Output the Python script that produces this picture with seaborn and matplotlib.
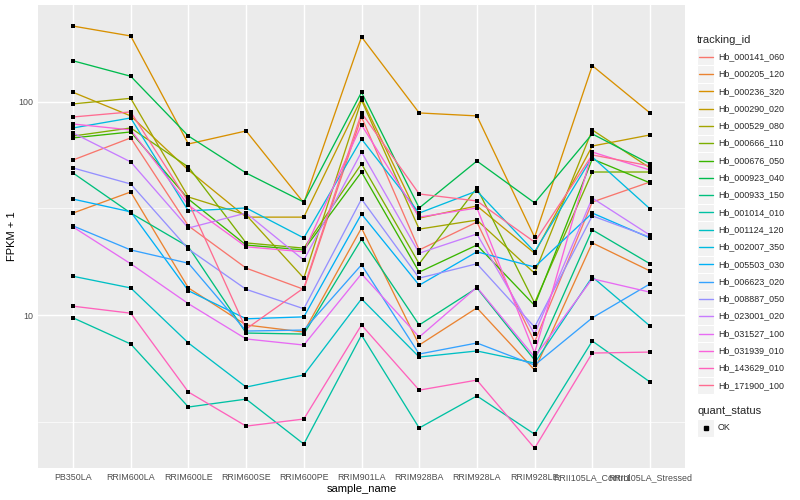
import numpy as np
import pandas as pd
import matplotlib
matplotlib.use("Agg")
import matplotlib.pyplot as plt
from matplotlib.ticker import FixedLocator, NullFormatter
from matplotlib.patches import Rectangle
from matplotlib.lines import Line2D
import seaborn as sns

# ---------------- data ----------------
sample_names = ["PB350LA", "RRIM600LA", "RRIM600LE", "RRIM600SE", "RRIM600PE",
                "RRIM901LA", "RRIM928BA", "RRIM928LA", "RRIM928LE",
                "RRII105LA_Control", "RRII105LA_Stressed"]

tracking_ids = ["Hb_000141_060", "Hb_000205_120", "Hb_000236_320", "Hb_000290_020",
                "Hb_000529_080", "Hb_000666_110", "Hb_000676_050", "Hb_000923_040",
                "Hb_000933_150", "Hb_001014_010", "Hb_001124_120", "Hb_002007_350",
                "Hb_005503_030", "Hb_006623_020", "Hb_008887_050", "Hb_023001_020",
                "Hb_031527_100", "Hb_031939_010", "Hb_143629_010", "Hb_171900_100"]

# FPKM + 1 per sample
hb_000141_060 = [53.4, 67.8, 26.2, 16.6, 13.2, 85.0, 20.2, 27.3, 7.47, 33.9, 42.1]
hb_000205_120 = [30.1, 37.8, 13.4, 8.98, 8.32, 25.6, 7.23, 10.8, 5.52, 21.8, 16.1]
hb_000236_320 = [227, 204, 63.5, 73.1, 33.6, 202, 88.8, 86.0, 23.2, 148, 88.8]
hb_000290_020 = [111, 86.0, 47.9, 28.8, 28.8, 104, 28.5, 32.5, 19.5, 62.1, 70.0]
hb_000529_080 = [97.9, 104, 35.8, 29.5, 14.9, 102, 25.3, 27.9, 15.7, 73.9, 49.0]
hb_000666_110 = [69.2, 75.5, 49.5, 21.8, 20.6, 51.2, 17.4, 39.5, 11.4, 46.9, 46.9]
hb_000676_050 = [67.8, 72.3, 35.0, 21.3, 20.2, 46.9, 15.9, 21.3, 11.1, 54.0, 41.7]
hb_000923_040 = [156, 132, 69.2, 46.4, 33.9, 111, 31.8, 52.8, 33.6, 70.8, 51.2]
hb_000933_150 = [46.4, 30.1, 20.9, 8.23, 8.14, 22.7, 8.98, 13.4, 6.15, 25.1, 17.4]
hb_001014_010 = [9.7, 7.31, 3.70, 4.03, 2.48, 8.05, 2.95, 4.17, 2.76, 7.55, 4.85]
hb_001124_120 = [15.2, 13.4, 7.39, 4.59, 5.23, 11.9, 6.35, 6.78, 5.95, 15.1, 8.88]
hb_002007_350 = [75.5, 84.1, 30.8, 31.8, 23.0, 67.0, 30.1, 38.2, 19.8, 55.2, 31.5]
hb_005503_030 = [35.0, 30.5, 13.0, 9.6, 9.8, 29.8, 13.8, 19.8, 16.8, 30.1, 23.0]
hb_006623_020 = [26.2, 20.2, 17.5, 8.41, 8.50, 17.2, 6.56, 7.39, 5.82, 9.7, 14.0]
hb_008887_050 = [49.0, 41.2, 20.4, 13.2, 10.7, 35.0, 14.9, 17.4, 8.78, 29.2, 23.2]
hb_023001_020 = [71.5, 52.3, 25.6, 30.1, 18.1, 58.2, 19.5, 24.0, 8.14, 35.4, 23.7]
hb_031527_100 = [25.9, 17.4, 11.3, 7.72, 7.23, 15.6, 7.88, 13.5, 6.35, 14.8, 12.8]
hb_031939_010 = [78.8, 73.9, 32.8, 20.9, 19.8, 78.0, 28.8, 31.8, 6.63, 58.2, 47.9]
hb_143629_010 = [11.0, 10.2, 4.35, 3.01, 3.25, 8.98, 4.44, 4.95, 2.37, 6.63, 6.70]
hb_171900_100 = [85.0, 89.8, 33.9, 8.60, 13.4, 88.8, 37.0, 34.3, 22.0, 56.4, 50.1]

series = [hb_000141_060, hb_000205_120, hb_000236_320, hb_000290_020, hb_000529_080,
          hb_000666_110, hb_000676_050, hb_000923_040, hb_000933_150, hb_001014_010,
          hb_001124_120, hb_002007_350, hb_005503_030, hb_006623_020, hb_008887_050,
          hb_023001_020, hb_031527_100, hb_031939_010, hb_143629_010, hb_171900_100]

quant_status = ["OK"]

palette = ["#F8766D", "#EA8331", "#D89000", "#C09B00", "#A3A500", "#7CAE00", "#39B600",
           "#00BB4E", "#00BF7D", "#00C1A3", "#00BFC4", "#00BAE0", "#00B0F6", "#35A2FF",
           "#9590FF", "#C77CFF", "#E76BF3", "#FA62DB", "#FF62BC", "#FF6C91"]

rows = []
for tid, vals in zip(tracking_ids, series):
    for s, v in zip(sample_names, vals):
        rows.append({"tracking_id": tid, "sample_name": s, "value": v, "quant_status": "OK"})
df = pd.DataFrame(rows)
df["xpos"] = df["sample_name"].map({s: i for i, s in enumerate(sample_names)})

# ---------------- plot ----------------
sns.set_style("white")
plt.rcParams["font.family"] = ["Liberation Sans", "DejaVu Sans"]

W, H = 800, 500
fig = plt.figure(figsize=(8, 5), dpi=100)
ax = fig.add_axes([38.4 / W, 1 - 468 / H, (684.6 - 38.4) / W, (468 - 5) / H])
ax.set_facecolor("#EBEBEB")

sns.lineplot(data=df, x="xpos", y="value", hue="tracking_id", hue_order=tracking_ids,
             palette=palette, sort=False, estimator=None, units="tracking_id",
             legend=False, lw=0.95, ax=ax, zorder=3)
sns.scatterplot(data=df, x="xpos", y="value", color="black", marker="s", s=7,
                linewidth=0, legend=False, ax=ax, zorder=4)

ax.set_yscale("log")
ax.set_ylim(10 ** 0.282, 10 ** 2.455)
ax.set_xlim(-0.6, len(sample_names) - 1 + 0.6)
ax.yaxis.set_major_locator(FixedLocator([10, 100]))
ax.set_yticklabels(["10", "100"])
ax.yaxis.set_minor_locator(FixedLocator([10 ** 0.5, 10 ** 1.5]))
ax.yaxis.set_minor_formatter(NullFormatter())
ax.set_xticks(range(len(sample_names)))
ax.set_xticklabels(sample_names)

ax.grid(True, which="major", color="white", lw=1.05, zorder=0)
ax.grid(True, which="minor", axis="y", color="white", lw=0.5, zorder=0)
ax.set_axisbelow(True)
for sp in ax.spines.values():
    sp.set_visible(False)
ax.tick_params(which="major", length=2.2, width=0.8, color="#333333",
               labelsize=6.4, labelcolor="#4D4D4D", pad=1.5)
ax.tick_params(which="minor", length=0)
ax.set_xlabel("sample_name", fontsize=8, color="black", labelpad=1.5)
ax.set_ylabel("FPKM + 1", fontsize=8, color="black", labelpad=1)

# ---------------- legends (ggplot style) ----------------
def fx(x):
    return x / W

def fy(y):
    return 1 - y / H

key_w, key_h = 17.3, 17.3
key_x = 697
fig.text(fx(key_x), fy(40), "tracking_id", fontsize=8, va="center", ha="left")
for i, (tid, col) in enumerate(zip(tracking_ids, palette)):
    yc = 56.7 + i * 17.3
    fig.patches.append(Rectangle((fx(key_x), fy(yc + key_h / 2)), key_w / W, key_h / H,
                                 transform=fig.transFigure, facecolor="#F2F2F2",
                                 edgecolor="white", lw=0.8))
    fig.lines.append(Line2D([fx(key_x + 1.7), fx(key_x + key_w - 1.7)], [fy(yc), fy(yc)],
                            transform=fig.transFigure, color=col, lw=1.0))
    fig.text(fx(key_x + key_w + 3.5), fy(yc), tid, fontsize=6.4, va="center", ha="left")

fig.text(fx(key_x), fy(411), "quant_status", fontsize=8, va="center", ha="left")
for j, qs in enumerate(quant_status):
    yc = 428 + j * 17.3
    fig.patches.append(Rectangle((fx(key_x), fy(yc + key_h / 2)), key_w / W, key_h / H,
                                 transform=fig.transFigure, facecolor="#F2F2F2",
                                 edgecolor="white", lw=0.8))
    fig.lines.append(Line2D([fx(key_x + key_w / 2)], [fy(yc)], transform=fig.transFigure,
                            marker="s", markersize=2.8, color="black", lw=0))
    fig.text(fx(key_x + key_w + 3.5), fy(yc), qs, fontsize=6.4, va="center", ha="left")

fig.savefig("out.png", dpi=100, facecolor="white")
